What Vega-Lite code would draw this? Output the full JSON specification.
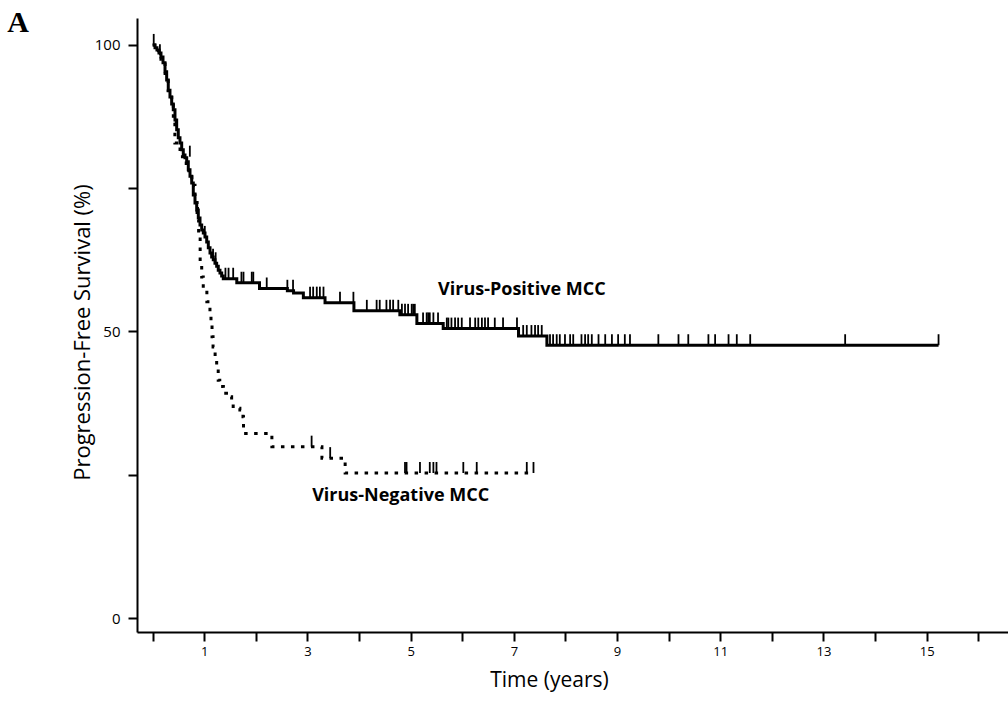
{
  "$schema": "https://vega.github.io/schema/vega-lite/v6.json",
  "width": 871,
  "height": 614,
  "autosize": "none",
  "padding": {"left": 137, "top": 18, "right": 0, "bottom": 70},
  "background": "white",
  "datasets": {
    "curves": [
      {"g": "Virus-Positive", "t": 0, "s": 100},
      {"g": "Virus-Positive", "t": 0.045, "s": 99.5},
      {"g": "Virus-Positive", "t": 0.083, "s": 99.1},
      {"g": "Virus-Positive", "t": 0.122, "s": 98.6},
      {"g": "Virus-Positive", "t": 0.161, "s": 97.9},
      {"g": "Virus-Positive", "t": 0.2, "s": 96.9},
      {"g": "Virus-Positive", "t": 0.239, "s": 95.3},
      {"g": "Virus-Positive", "t": 0.271, "s": 93.9},
      {"g": "Virus-Positive", "t": 0.302, "s": 92.1},
      {"g": "Virus-Positive", "t": 0.335, "s": 90.9},
      {"g": "Virus-Positive", "t": 0.368, "s": 89.7},
      {"g": "Virus-Positive", "t": 0.399, "s": 88.7},
      {"g": "Virus-Positive", "t": 0.432, "s": 86.9},
      {"g": "Virus-Positive", "t": 0.465, "s": 85.2},
      {"g": "Virus-Positive", "t": 0.496, "s": 83.8},
      {"g": "Virus-Positive", "t": 0.529, "s": 82.9},
      {"g": "Virus-Positive", "t": 0.562, "s": 81.7},
      {"g": "Virus-Positive", "t": 0.593, "s": 80.8},
      {"g": "Virus-Positive", "t": 0.626, "s": 80.3},
      {"g": "Virus-Positive", "t": 0.659, "s": 79.6},
      {"g": "Virus-Positive", "t": 0.69, "s": 78.2},
      {"g": "Virus-Positive", "t": 0.723, "s": 77.1},
      {"g": "Virus-Positive", "t": 0.756, "s": 75.9},
      {"g": "Virus-Positive", "t": 0.787, "s": 73.8},
      {"g": "Virus-Positive", "t": 0.82, "s": 72.4},
      {"g": "Virus-Positive", "t": 0.853, "s": 71.2},
      {"g": "Virus-Positive", "t": 0.884, "s": 69.8},
      {"g": "Virus-Positive", "t": 0.917, "s": 68.6},
      {"g": "Virus-Positive", "t": 0.95, "s": 67.7},
      {"g": "Virus-Positive", "t": 0.981, "s": 67.2},
      {"g": "Virus-Positive", "t": 1.014, "s": 66.5},
      {"g": "Virus-Positive", "t": 1.047, "s": 65.6},
      {"g": "Virus-Positive", "t": 1.078, "s": 64.6},
      {"g": "Virus-Positive", "t": 1.111, "s": 63.7},
      {"g": "Virus-Positive", "t": 1.143, "s": 63.0},
      {"g": "Virus-Positive", "t": 1.174, "s": 62.5},
      {"g": "Virus-Positive", "t": 1.207, "s": 61.9},
      {"g": "Virus-Positive", "t": 1.24, "s": 61.4},
      {"g": "Virus-Positive", "t": 1.271, "s": 60.7},
      {"g": "Virus-Positive", "t": 1.304, "s": 60.2},
      {"g": "Virus-Positive", "t": 1.337, "s": 59.7},
      {"g": "Virus-Positive", "t": 1.368, "s": 59.2},
      {"g": "Virus-Positive", "t": 1.63, "s": 58.5},
      {"g": "Virus-Positive", "t": 2.07, "s": 57.5},
      {"g": "Virus-Positive", "t": 2.61, "s": 57.1},
      {"g": "Virus-Positive", "t": 2.73, "s": 56.7},
      {"g": "Virus-Positive", "t": 2.92, "s": 55.9},
      {"g": "Virus-Positive", "t": 3.34, "s": 55.0},
      {"g": "Virus-Positive", "t": 3.9, "s": 53.6},
      {"g": "Virus-Positive", "t": 4.79, "s": 52.9},
      {"g": "Virus-Positive", "t": 5.12, "s": 51.4},
      {"g": "Virus-Positive", "t": 5.63, "s": 50.5},
      {"g": "Virus-Positive", "t": 7.09, "s": 49.2},
      {"g": "Virus-Positive", "t": 7.64, "s": 47.6},
      {"g": "Virus-Positive", "t": 15.23, "s": 47.6},
      {"g": "Virus-Negative", "t": 0, "s": 100},
      {"g": "Virus-Negative", "t": 0.08, "s": 99},
      {"g": "Virus-Negative", "t": 0.16, "s": 97.5},
      {"g": "Virus-Negative", "t": 0.24, "s": 95},
      {"g": "Virus-Negative", "t": 0.3, "s": 92},
      {"g": "Virus-Negative", "t": 0.37, "s": 89.5},
      {"g": "Virus-Negative", "t": 0.4, "s": 86.4},
      {"g": "Virus-Negative", "t": 0.43, "s": 82.9},
      {"g": "Virus-Negative", "t": 0.53, "s": 80.5},
      {"g": "Virus-Negative", "t": 0.65, "s": 79},
      {"g": "Virus-Negative", "t": 0.7, "s": 77},
      {"g": "Virus-Negative", "t": 0.76, "s": 75.5},
      {"g": "Virus-Negative", "t": 0.82, "s": 72.5},
      {"g": "Virus-Negative", "t": 0.86, "s": 69.5},
      {"g": "Virus-Negative", "t": 0.89, "s": 66.5},
      {"g": "Virus-Negative", "t": 0.92, "s": 62.0},
      {"g": "Virus-Negative", "t": 0.95, "s": 59.5},
      {"g": "Virus-Negative", "t": 0.98, "s": 57.2},
      {"g": "Virus-Negative", "t": 1.05, "s": 55.2},
      {"g": "Virus-Negative", "t": 1.11, "s": 53.2},
      {"g": "Virus-Negative", "t": 1.13, "s": 51.1},
      {"g": "Virus-Negative", "t": 1.15, "s": 49.1},
      {"g": "Virus-Negative", "t": 1.17, "s": 47.3},
      {"g": "Virus-Negative", "t": 1.21, "s": 45.6},
      {"g": "Virus-Negative", "t": 1.24, "s": 43.6},
      {"g": "Virus-Negative", "t": 1.27, "s": 41.5},
      {"g": "Virus-Negative", "t": 1.3, "s": 40.4},
      {"g": "Virus-Negative", "t": 1.37, "s": 39.2},
      {"g": "Virus-Negative", "t": 1.43, "s": 38.6},
      {"g": "Virus-Negative", "t": 1.53, "s": 38.0},
      {"g": "Virus-Negative", "t": 1.56, "s": 36.6},
      {"g": "Virus-Negative", "t": 1.69, "s": 36.3},
      {"g": "Virus-Negative", "t": 1.75, "s": 35.1},
      {"g": "Virus-Negative", "t": 1.76, "s": 32.2},
      {"g": "Virus-Negative", "t": 2.31, "s": 29.9},
      {"g": "Virus-Negative", "t": 3.28, "s": 27.9},
      {"g": "Virus-Negative", "t": 3.73, "s": 25.3},
      {"g": "Virus-Negative", "t": 7.38, "s": 25.3}
    ],
    "censor": [
      {"g": "Virus-Positive", "t": 0.02, "s": 100},
      {"g": "Virus-Positive", "t": 0.14, "s": 98.2},
      {"g": "Virus-Positive", "t": 0.72, "s": 80.5},
      {"g": "Virus-Positive", "t": 0.88, "s": 69.8},
      {"g": "Virus-Positive", "t": 1.01, "s": 66.5},
      {"g": "Virus-Positive", "t": 1.17, "s": 62.5},
      {"g": "Virus-Positive", "t": 1.22, "s": 61.9},
      {"g": "Virus-Positive", "t": 1.41, "s": 59.2},
      {"g": "Virus-Positive", "t": 1.47, "s": 59.2},
      {"g": "Virus-Positive", "t": 1.56, "s": 59.2},
      {"g": "Virus-Positive", "t": 1.72, "s": 58.5},
      {"g": "Virus-Positive", "t": 1.76, "s": 58.5},
      {"g": "Virus-Positive", "t": 1.92, "s": 58.5},
      {"g": "Virus-Positive", "t": 1.95, "s": 58.5},
      {"g": "Virus-Positive", "t": 2.21, "s": 57.5},
      {"g": "Virus-Positive", "t": 2.61, "s": 57.1},
      {"g": "Virus-Positive", "t": 2.72, "s": 57.1},
      {"g": "Virus-Positive", "t": 3.05, "s": 55.9},
      {"g": "Virus-Positive", "t": 3.11, "s": 55.9},
      {"g": "Virus-Positive", "t": 3.18, "s": 55.9},
      {"g": "Virus-Positive", "t": 3.24, "s": 55.9},
      {"g": "Virus-Positive", "t": 3.31, "s": 55.9},
      {"g": "Virus-Positive", "t": 3.63, "s": 55.0},
      {"g": "Virus-Positive", "t": 3.89, "s": 55.0},
      {"g": "Virus-Positive", "t": 4.15, "s": 53.6},
      {"g": "Virus-Positive", "t": 4.34, "s": 53.6},
      {"g": "Virus-Positive", "t": 4.4, "s": 53.6},
      {"g": "Virus-Positive", "t": 4.53, "s": 53.6},
      {"g": "Virus-Positive", "t": 4.6, "s": 53.6},
      {"g": "Virus-Positive", "t": 4.66, "s": 53.6},
      {"g": "Virus-Positive", "t": 4.76, "s": 53.6},
      {"g": "Virus-Positive", "t": 4.83, "s": 52.9},
      {"g": "Virus-Positive", "t": 4.89, "s": 52.9},
      {"g": "Virus-Positive", "t": 4.95, "s": 52.9},
      {"g": "Virus-Positive", "t": 5.02, "s": 52.9},
      {"g": "Virus-Positive", "t": 5.05, "s": 52.9},
      {"g": "Virus-Positive", "t": 5.08, "s": 52.9},
      {"g": "Virus-Positive", "t": 5.24, "s": 51.4},
      {"g": "Virus-Positive", "t": 5.31, "s": 51.4},
      {"g": "Virus-Positive", "t": 5.34, "s": 51.4},
      {"g": "Virus-Positive", "t": 5.37, "s": 51.4},
      {"g": "Virus-Positive", "t": 5.44, "s": 51.4},
      {"g": "Virus-Positive", "t": 5.53, "s": 51.4},
      {"g": "Virus-Positive", "t": 5.7, "s": 50.5},
      {"g": "Virus-Positive", "t": 5.73, "s": 50.5},
      {"g": "Virus-Positive", "t": 5.79, "s": 50.5},
      {"g": "Virus-Positive", "t": 5.86, "s": 50.5},
      {"g": "Virus-Positive", "t": 5.92, "s": 50.5},
      {"g": "Virus-Positive", "t": 5.99, "s": 50.5},
      {"g": "Virus-Positive", "t": 6.15, "s": 50.5},
      {"g": "Virus-Positive", "t": 6.25, "s": 50.5},
      {"g": "Virus-Positive", "t": 6.31, "s": 50.5},
      {"g": "Virus-Positive", "t": 6.38, "s": 50.5},
      {"g": "Virus-Positive", "t": 6.44, "s": 50.5},
      {"g": "Virus-Positive", "t": 6.5, "s": 50.5},
      {"g": "Virus-Positive", "t": 6.63, "s": 50.5},
      {"g": "Virus-Positive", "t": 6.79, "s": 50.5},
      {"g": "Virus-Positive", "t": 7.06, "s": 50.5},
      {"g": "Virus-Positive", "t": 7.18, "s": 49.2},
      {"g": "Virus-Positive", "t": 7.25, "s": 49.2},
      {"g": "Virus-Positive", "t": 7.34, "s": 49.2},
      {"g": "Virus-Positive", "t": 7.41, "s": 49.2},
      {"g": "Virus-Positive", "t": 7.47, "s": 49.2},
      {"g": "Virus-Positive", "t": 7.54, "s": 49.2},
      {"g": "Virus-Positive", "t": 7.7, "s": 47.6},
      {"g": "Virus-Positive", "t": 7.76, "s": 47.6},
      {"g": "Virus-Positive", "t": 7.83, "s": 47.6},
      {"g": "Virus-Positive", "t": 7.89, "s": 47.6},
      {"g": "Virus-Positive", "t": 7.99, "s": 47.6},
      {"g": "Virus-Positive", "t": 8.09, "s": 47.6},
      {"g": "Virus-Positive", "t": 8.15, "s": 47.6},
      {"g": "Virus-Positive", "t": 8.31, "s": 47.6},
      {"g": "Virus-Positive", "t": 8.38, "s": 47.6},
      {"g": "Virus-Positive", "t": 8.44, "s": 47.6},
      {"g": "Virus-Positive", "t": 8.51, "s": 47.6},
      {"g": "Virus-Positive", "t": 8.64, "s": 47.6},
      {"g": "Virus-Positive", "t": 8.77, "s": 47.6},
      {"g": "Virus-Positive", "t": 8.9, "s": 47.6},
      {"g": "Virus-Positive", "t": 9.02, "s": 47.6},
      {"g": "Virus-Positive", "t": 9.15, "s": 47.6},
      {"g": "Virus-Positive", "t": 9.25, "s": 47.6},
      {"g": "Virus-Positive", "t": 9.8, "s": 47.6},
      {"g": "Virus-Positive", "t": 10.19, "s": 47.6},
      {"g": "Virus-Positive", "t": 10.38, "s": 47.6},
      {"g": "Virus-Positive", "t": 10.77, "s": 47.6},
      {"g": "Virus-Positive", "t": 10.9, "s": 47.6},
      {"g": "Virus-Positive", "t": 11.16, "s": 47.6},
      {"g": "Virus-Positive", "t": 11.32, "s": 47.6},
      {"g": "Virus-Positive", "t": 11.58, "s": 47.6},
      {"g": "Virus-Positive", "t": 13.42, "s": 47.6},
      {"g": "Virus-Positive", "t": 15.23, "s": 47.6},
      {"g": "Virus-Negative", "t": 3.08, "s": 29.9},
      {"g": "Virus-Negative", "t": 3.44, "s": 27.9},
      {"g": "Virus-Negative", "t": 4.89, "s": 25.3},
      {"g": "Virus-Negative", "t": 4.92, "s": 25.3},
      {"g": "Virus-Negative", "t": 5.18, "s": 25.3},
      {"g": "Virus-Negative", "t": 5.37, "s": 25.3},
      {"g": "Virus-Negative", "t": 5.44, "s": 25.3},
      {"g": "Virus-Negative", "t": 5.5, "s": 25.3},
      {"g": "Virus-Negative", "t": 6.02, "s": 25.3},
      {"g": "Virus-Negative", "t": 6.28, "s": 25.3},
      {"g": "Virus-Negative", "t": 7.25, "s": 25.3},
      {"g": "Virus-Negative", "t": 7.38, "s": 25.3}
    ],
    "labels": [
      {"label": "Virus-Positive MCC", "t": 5.53, "s": 57.2},
      {"label": "Virus-Negative MCC", "t": 3.09, "s": 21.3}
    ],
    "panel": [
      {"label": "A", "t": -2.82, "s": 102.3}
    ]
  },
  "encoding": {
    "x": {
      "field": "t", "type": "quantitative",
      "scale": {"domain": [-0.304, 16.576], "nice": false, "zero": false},
      "axis": {
        "values": [0, 1, 2, 3, 4, 5, 6, 7, 8, 9, 10, 11, 12, 13, 14, 15, 16],
        "labelExpr": "datum.value % 2 === 1 ? datum.label : ''",
        "title": "Time (years)",
        "titleX": 412, "titleY": 54, "titleBaseline": "alphabetic", "titleAlign": "center",
        "titleFontSize": 21, "titleFontWeight": "normal",
        "labelFontSize": 13, "labelPadding": 4
      }
    },
    "y": {
      "field": "s", "type": "quantitative",
      "scale": {"domain": [-2.44, 104.7], "nice": false, "zero": false},
      "axis": {
        "values": [0, 25, 50, 75, 100],
        "labelExpr": "datum.value % 50 === 0 ? datum.label : ''",
        "title": "Progression-Free Survival (%)",
        "titleX": -48, "titleY": 314, "titleAngle": 270, "titleBaseline": "alphabetic", "titleAlign": "center",
        "titleFontSize": 22, "titleFontWeight": "normal",
        "labelFontSize": 15, "labelPadding": 8, "labelBaseline": "middle"
      }
    }
  },
  "layer": [
    {
      "data": {"name": "curves"},
      "mark": {"type": "line", "interpolate": "step-after", "color": "black", "strokeWidth": 3},
      "encoding": {
        "detail": {"field": "g"},
        "strokeDash": {"field": "g", "type": "nominal", "scale": {"domain": ["Virus-Positive", "Virus-Negative"], "range": [[1, 0], [3.5, 6.5]]}, "legend": null}
      }
    },
    {
      "data": {"name": "censor"},
      "mark": {"type": "tick", "orient": "vertical", "color": "black", "size": 11, "thickness": 1.8, "yOffset": -5.5, "opacity": 1}
    },
    {
      "data": {"name": "labels"},
      "mark": {"type": "text", "align": "left", "baseline": "middle", "font": "Open Sans", "fontWeight": "bold", "fontSize": 18, "color": "black"},
      "encoding": {"text": {"field": "label"}}
    },
    {
      "data": {"name": "panel"},
      "mark": {"type": "text", "align": "left", "baseline": "alphabetic", "font": "Liberation Serif", "fontWeight": "bold", "fontSize": 30, "color": "black", "clip": false},
      "encoding": {"text": {"field": "label"}}
    }
  ],
  "config": {
    "view": {"stroke": null},
    "axis": {
      "grid": false,
      "domainColor": "black", "domainWidth": 2,
      "tickColor": "black", "tickWidth": 2, "tickSize": 9,
      "labelFont": "Open Sans", "labelColor": "black",
      "titleFont": "Open Sans", "titleColor": "black",
      "labelOverlap": false, "labelFlush": false
    }
  }
}
